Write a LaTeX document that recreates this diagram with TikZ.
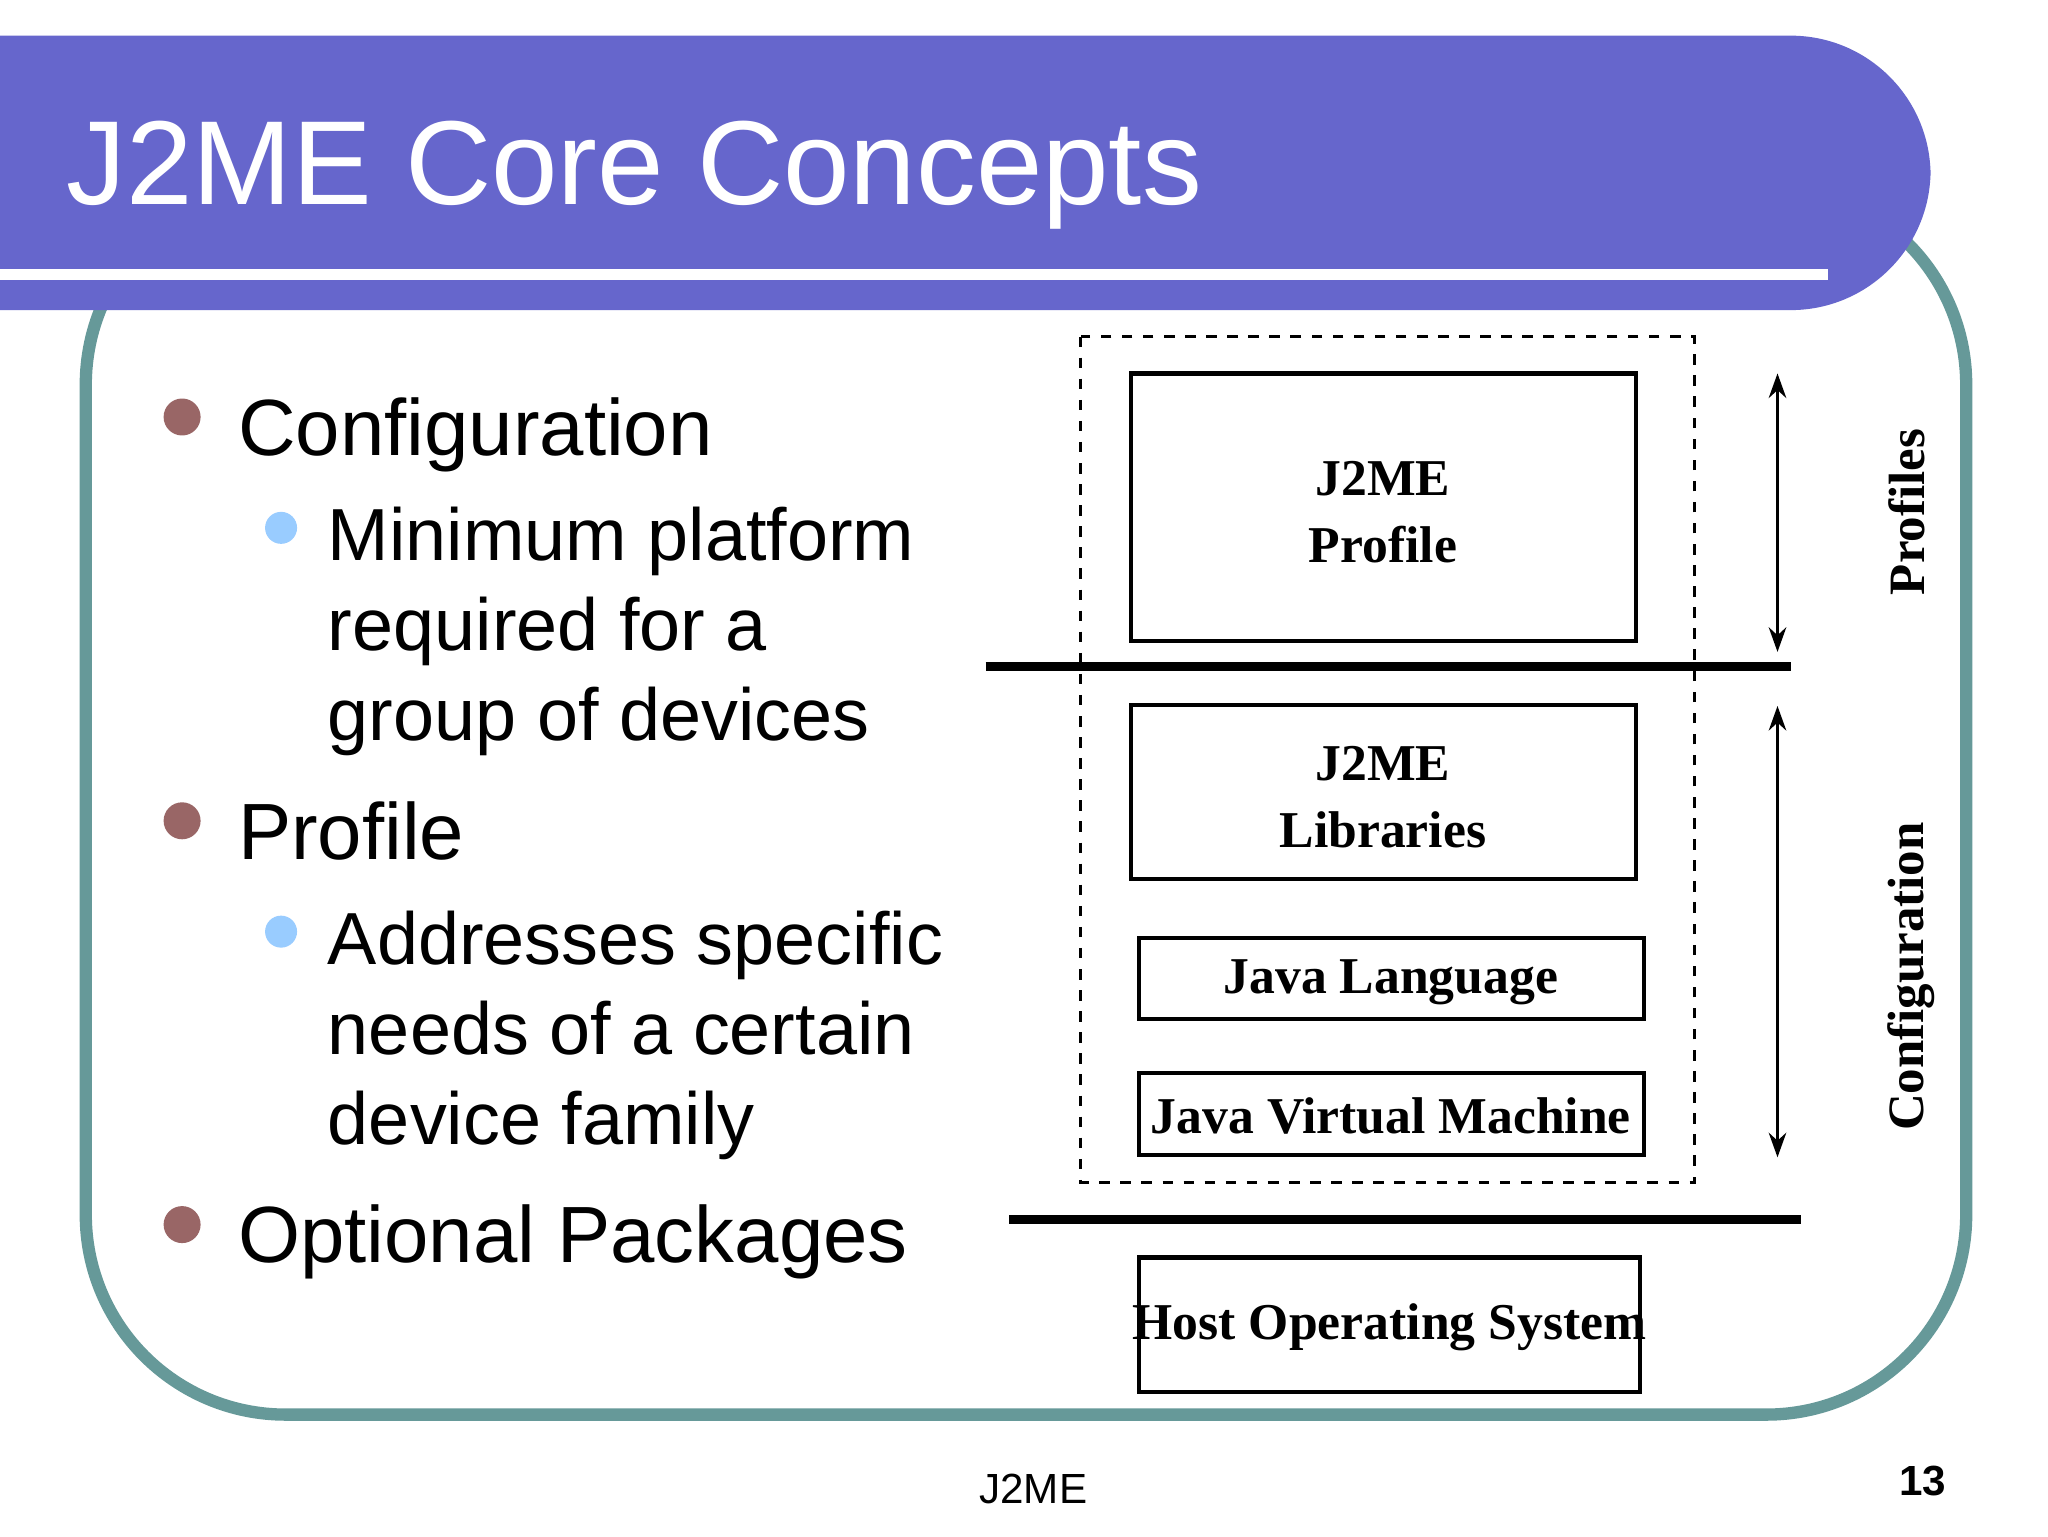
\documentclass[tikz,border=0pt]{standalone}
\usepackage{fontspec}
\setmainfont{Liberation Sans}
\newfontfamily\serifb{Liberation Serif}
\usetikzlibrary{arrows.meta}
\definecolor{band}{HTML}{6666CC}
\definecolor{teal}{HTML}{669999}
\definecolor{brn}{HTML}{996666}
\definecolor{lblue}{HTML}{99CCFF}
\tikzset{
 box/.style={draw,line width=1.2pt},
 lbl/.style={font=\serifb\bfseries\fontsize{14.7}{19}\selectfont,align=center},
 bul/.style={circle,fill=brn,minimum size=0.37cm,inner sep=0pt},
 sbul/.style={circle,fill=lblue,minimum size=0.32cm,inner sep=0pt},
 big/.style={anchor=base west,font=\fontsize{22.7}{28}\selectfont,inner sep=0pt},
 small/.style={anchor=base west,font=\fontsize{21}{25}\selectfont,inner sep=0pt},
 thick line/.style={line width=2.6pt},
 side/.style={font=\serifb\bfseries\fontsize{14.5}{18}\selectfont,rotate=90}
}
\begin{document}
\begin{tikzpicture}[x=0.0132cm,y=-0.0132cm]
\useasboundingbox (0,0) rectangle (1552,1164);
\fill[white] (0,0) rectangle (1552,1164);
% frame
\draw[teal,line width=3.5pt,rounded corners=2cm] (65,140) rectangle (1490,1072);
% title band
\fill[band,rounded corners=1.4cm] (-200,27) rectangle (1463,235);
\fill[band] (-10,27) rectangle (700,235);
\draw[white,line width=3pt] (-5,208) -- (1385,208);
\node[anchor=base west,text=white,font=\fontsize{34}{40}\selectfont,inner sep=0pt] (title) at (50,155) {J2ME Core Concepts};
% bullets
\node[bul] (b1) at (138,316) {};
\node[big] (t1) at (180,345) {Configuration};
\node[sbul] (s1) at (213,400) {};
\node[small] (u1) at (248,425) {Minimum platform};
\node[small] (u2) at (248,493) {required for a};
\node[small] (u3) at (248,561) {group of devices};
\node[bul] (b2) at (138,622) {};
\node[big] (t2) at (180,651) {Profile};
\node[sbul] (s2) at (213,706) {};
\node[small] (v1) at (248,731) {Addresses specific};
\node[small] (v2) at (248,799) {needs of a certain};
\node[small] (v3) at (248,867) {device family};
\node[bul] (b3) at (138,928) {};
\node[big] (t3) at (180,957) {Optional Packages};
% diagram
\draw[dashed,line width=0.8pt] (819,255) rectangle (1284,896);
\draw[box] (857,283) rectangle (1240,486);
\node[lbl] (p) at (1048,388) {J2ME\\Profile};
\draw[box] (857,534) rectangle (1240,666);
\node[lbl] (l) at (1048,604) {J2ME\\Libraries};
\draw[box] (863,711) rectangle (1246,772);
\node[lbl] (jl) at (1054,744) {Java Language};
\draw[box] (863,813) rectangle (1246,875);
\node[lbl] (jvm) at (1054,846) {Java Virtual Machine};
\draw[box] (863,953) rectangle (1243,1055);
\node[lbl] (os) at (1053,1006) {Host Operating System};
\draw[thick line] (747,505) -- (1357,505);
\draw[thick line] (765,924) -- (1365,924);
\coordinate (a1) at (1347,283); \coordinate (a2) at (1347,494);
\coordinate (a3) at (1347,535); \coordinate (a4) at (1347,877);
\draw[line width=0.8pt,{Stealth[length=7pt,width=5pt]}-{Stealth[length=7pt,width=5pt]}] (a1) -- (a2);
\draw[line width=0.8pt,{Stealth[length=7pt,width=5pt]}-{Stealth[length=7pt,width=5pt]}] (a3) -- (a4);
\node[side] (pr) at (1445,388) {Profiles};
\node[side] (cf) at (1448,740) {Configuration};
% footer
\node[font=\fontsize{12}{14}\selectfont] (f) at (783,1128) {J2ME};
\node[font=\bfseries\fontsize{12}{14}\selectfont] (n) at (1457,1122) {13};
\end{tikzpicture}
\end{document}
